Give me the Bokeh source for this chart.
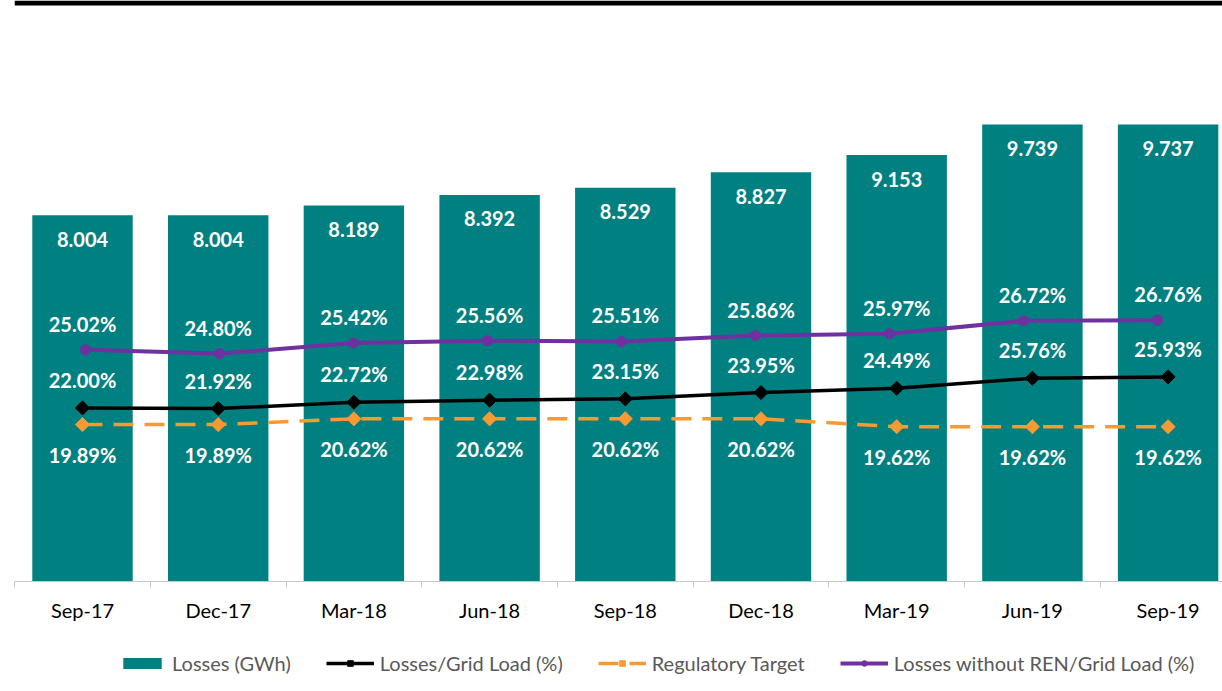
from bokeh.plotting import figure
from bokeh.layouts import column
from bokeh.models import Range1d, FixedTicker, Legend, LegendItem, Span
from bokeh.core.properties import value
from bokeh.embed import file_html
from bokeh.resources import INLINE
import math

categories = ["Sep-17", "Dec-17", "Mar-18", "Jun-18", "Sep-18", "Dec-18", "Mar-19", "Jun-19", "Sep-19"]
losses_gwh = [8.004, 8.004, 8.189, 8.392, 8.529, 8.827, 9.153, 9.739, 9.737]
losses_grid_pct = [22.00, 21.92, 22.72, 22.98, 23.15, 23.95, 24.49, 25.76, 25.93]
regulatory_target_pct = [19.89, 19.89, 20.62, 20.62, 20.62, 20.62, 19.62, 19.62, 19.62]
losses_wo_ren_pct = [25.02, 24.80, 25.42, 25.56, 25.51, 25.86, 25.97, 26.72, 26.76]
legend_labels = ["Losses (GWh)", "Losses/Grid Load (%)", "Regulatory Target",
                 "Losses without REN/Grid Load (%)"]

TEAL = "#008080"
BLACK = "#000000"
ORANGE = "#F79A33"
PURPLE = "#7030A0"
FONT = "Lato"

# layout (pixels)
FRAME_W, FRAME_H = 1208, 581
CAT_PX = 135.7          # width of one category slot
CAT0_PX = 68            # centre of first category from frame left
PUR_CAT_PX = 134.0      # purple series sits on its own (secondary) category axis
PUR_CAT0_PX = 71
BAR_PX_PER_UNIT = 52.3
BAR_MIN = 1.0
PCT_PX = 7.89           # px per % for grid-load / target axis
PUR_PX = 17.07          # px per % for purple axis
PUR_MIN = 11.45

x_idx = list(range(len(categories)))

x_start = -CAT0_PX / CAT_PX
p = figure(
    frame_width=FRAME_W, frame_height=FRAME_H,
    output_backend="svg", toolbar_location=None,
    x_range=Range1d(x_start, x_start + FRAME_W / CAT_PX),
    y_range=Range1d(BAR_MIN, BAR_MIN + FRAME_H / BAR_PX_PER_UNIT),
    min_border_left=14, min_border_right=0, min_border_top=0, min_border_bottom=50,
)
px_start = -PUR_CAT0_PX / PUR_CAT_PX
p.extra_x_ranges = {"pur": Range1d(px_start, px_start + FRAME_W / PUR_CAT_PX)}
p.extra_y_ranges = {
    "pct": Range1d(0, FRAME_H / PCT_PX),
    "pur": Range1d(PUR_MIN, PUR_MIN + FRAME_H / PUR_PX),
}

p.outline_line_color = None
p.xgrid.visible = False
p.ygrid.visible = False
p.yaxis.visible = False

# x axis
ax = p.xaxis[0]
ax.ticker = FixedTicker(ticks=x_idx, minor_ticks=[i - 0.5 for i in range(len(categories) + 1)])
ax.major_label_overrides = {i: c for i, c in enumerate(categories)}
ax.major_tick_line_color = None
ax.major_tick_out = 0
ax.major_tick_in = 0
ax.minor_tick_out = 6
ax.minor_tick_in = 0
ax.minor_tick_line_color = "#c8c8c8"
ax.axis_line_color = "#c8c8c8"
ax.axis_line_width = 1
ax.major_label_standoff = 10
ax.major_label_text_font = FONT
ax.major_label_text_font_size = "20px"
ax.major_label_text_color = "#000000"

# top rule
p.add_layout(Span(location=BAR_MIN + (FRAME_H - 2.5) / BAR_PX_PER_UNIT, dimension="width",
                  line_color="#000000", line_width=5))

bar_style = dict(fill_color=TEAL, line_color=None)
grid_line = dict(line_color=BLACK, line_width=3.5)
grid_mark = dict(marker="square", angle=math.pi / 4, size=10, fill_color=BLACK, line_color=BLACK)
tgt_line = dict(line_color=ORANGE, line_width=3.5, line_dash="20 11")
tgt_mark = dict(marker="square", angle=math.pi / 4, size=10, fill_color=ORANGE, line_color=ORANGE)
pur_line = dict(line_color=PURPLE, line_width=4)
pur_mark = dict(marker="circle", size=10, fill_color=PURPLE, line_color=PURPLE)

# bars
p.vbar(x=x_idx, top=losses_gwh, bottom=BAR_MIN, width=0.74, **bar_style)

# lines
p.line(x_idx, losses_grid_pct, y_range_name="pct", **grid_line)
p.scatter(x_idx, losses_grid_pct, y_range_name="pct", **grid_mark)
p.line(x_idx, regulatory_target_pct, y_range_name="pct", **tgt_line)
p.scatter(x_idx, regulatory_target_pct, y_range_name="pct", **tgt_mark)
p.line(x_idx, losses_wo_ren_pct, x_range_name="pur", y_range_name="pur", **pur_line)
p.scatter(x_idx, losses_wo_ren_pct, x_range_name="pur", y_range_name="pur", **pur_mark)

# data labels
lab = dict(text_font=value(FONT), text_font_style="bold", text_font_size="20px",
           text_color="white", text_align="center", text_baseline="middle")
p.text(x_idx, losses_gwh, text=[f"{v:.3f}" for v in losses_gwh], y_offset=24, **lab)
p.text(x_idx, losses_wo_ren_pct, text=[f"{v:.2f}%" for v in losses_wo_ren_pct],
       y_range_name="pur", y_offset=-26, **lab)
p.text(x_idx, losses_grid_pct, text=[f"{v:.2f}%" for v in losses_grid_pct],
       y_range_name="pct", y_offset=-28, **lab)
p.text(x_idx, regulatory_target_pct, text=[f"{v:.2f}%" for v in regulatory_target_pct],
       y_range_name="pct", y_offset=30, **lab)

# legend strip (separate figure placed under the chart); its proxy
# renderers hold a single NaN so they draw nothing but keep their styles
lg = figure(width=1222, height=60, output_backend="svg", toolbar_location=None,
            x_axis_type=None, y_axis_type=None, min_border=0,
            x_range=Range1d(0, 1), y_range=Range1d(0, 1))
lg.outline_line_color = None
lg.grid.visible = False
NAN = [float("nan")]
r_bar = lg.vbar(x=NAN, top=NAN, width=0.5, **bar_style)
r_gl = lg.line(NAN, NAN, **grid_line)
r_gm = lg.scatter(NAN, NAN, **grid_mark)
r_tl = lg.line(NAN, NAN, **tgt_line)
r_tm = lg.scatter(NAN, NAN, **tgt_mark)
r_pl = lg.line(NAN, NAN, **pur_line)
r_pm = lg.scatter(NAN, NAN, **pur_mark)

legend = Legend(
    items=[
        LegendItem(label=legend_labels[0], renderers=[r_bar]),
        LegendItem(label=legend_labels[1], renderers=[r_gl, r_gm]),
        LegendItem(label=legend_labels[2], renderers=[r_tl, r_tm]),
        LegendItem(label=legend_labels[3], renderers=[r_pl, r_pm]),
    ],
    orientation="horizontal", location=(104, 16),
    glyph_width=48, glyph_height=14, label_standoff=6, spacing=35,
    padding=0, margin=0, border_line_color=None, background_fill_alpha=0,
    label_text_font=FONT, label_text_font_size="20px", label_text_color="#595959",
    label_height=20,
)
lg.add_layout(legend, "center")

layout = column(p, lg, spacing=0)
open("out.html", "w").write(file_html(layout, INLINE))
